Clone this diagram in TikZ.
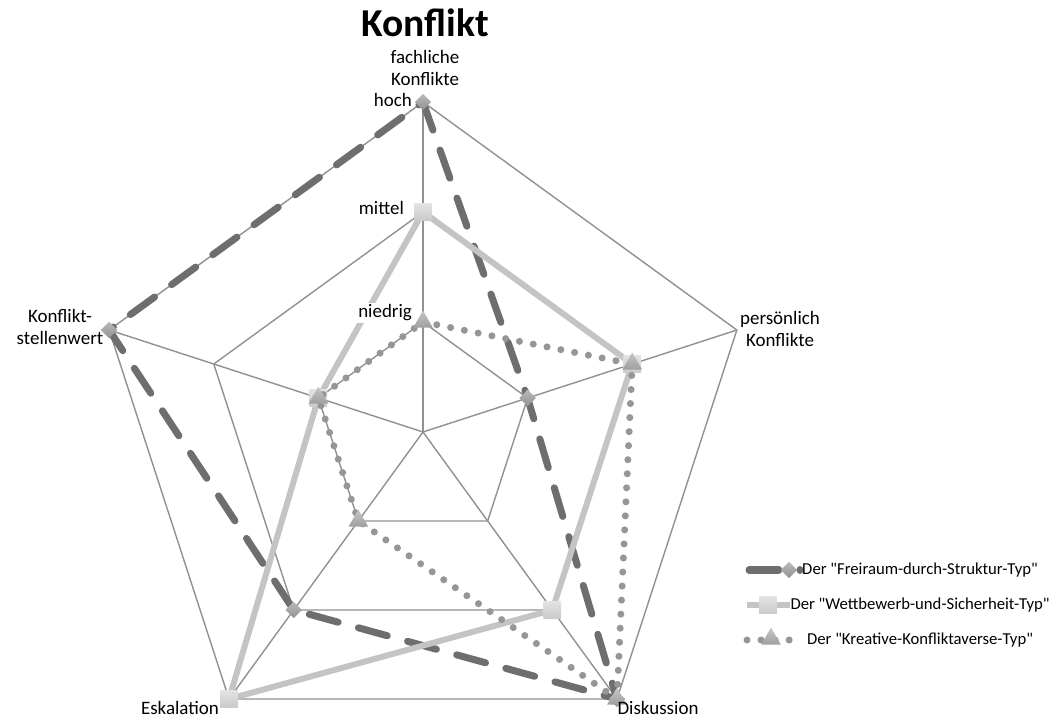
\documentclass[tikz,border=0pt]{standalone}
\usepackage{fontspec}
\setmainfont{Carlito}
\usetikzlibrary{shapes.geometric}
\definecolor{gridColor}{RGB}{145,145,145}
\definecolor{freiraumColor}{RGB}{110,110,110}
\definecolor{wettbewerbColor}{RGB}{196,196,196}
\definecolor{kreativColor}{RGB}{150,150,150}
\tikzstyle{chart} = [x = 0.02cm, y = 0.02cm]
\tikzstyle{gridLine} = [color=gridColor, line width=0.8pt]
\tikzstyle{freiraumLine} = [color=freiraumColor, line width=4pt, line cap=round, dash pattern=on 17pt off 12pt]
\tikzstyle{wettbewerbLine} = [color=wettbewerbColor, line width=3.4pt, line join=round]
\tikzstyle{kreativLine} = [color=kreativColor, line width=4pt, line cap=round, dash pattern=on 0pt off 8pt]
\tikzstyle{freiraumMark} = [diamond, minimum size=9.5pt, inner sep=0pt, top color=gray!55, bottom color=gray!85]
\tikzstyle{wettbewerbMark} = [rectangle, minimum size=10pt, inner sep=0pt, top color=gray!22, bottom color=gray!42]
\tikzstyle{kreativMark} = [regular polygon, regular polygon sides=3, minimum size=13pt, inner sep=0pt, top color=gray!45, bottom color=gray!75]
\tikzstyle{axisText} = [font=\fontsize{10.8}{13}\selectfont, align=center, inner sep=1pt]
\tikzstyle{scaleText} = [font=\fontsize{10.8}{13}\selectfont, anchor=east, inner sep=1pt]
\tikzstyle{legendText} = [font=\fontsize{9.5}{11}\selectfont]
\newcommand{\seriesPoints}[6]{
  \foreach \axis/\ang/\val in {1/90/#2, 2/18/#3, 3/-54/#4, 4/-126/#5, 5/162/#6} {
    \coordinate (#1\axis) at (\ang:110*\val);
  }
}
\newcommand{\seriesMarks}[2]{
  \foreach \axis in {1,...,5} {
    \node [#2] (#1Mark\axis) at (#1\axis) {};
  }
}
\begin{document}
\begin{tikzpicture}[chart]
  \useasboundingbox (0,0) rectangle (1050,719);
  \begin{scope}[shift={(423,287)}]
    \coordinate (center) at (0,0);
    \foreach \axis/\ang in {1/90, 2/18, 3/-54, 4/-126, 5/162} {
      \coordinate (outer\axis) at (\ang:330);
    }
    \foreach \level in {1,2,3} {
      \draw [gridLine] (90:110*\level) -- (18:110*\level) -- (-54:110*\level) -- (-126:110*\level) -- (162:110*\level) -- cycle;
    }
    \foreach \axis in {1,...,5} {
      \draw [gridLine] (center) -- (outer\axis);
    }
    \seriesPoints{fr}{3}{1}{3}{2}{3}
    \seriesPoints{wb}{2}{2}{2}{3}{1}
    \seriesPoints{kr}{1}{2}{3}{1}{1}
    \draw [freiraumLine] (fr1) -- (fr2) -- (fr3) -- (fr4) -- (fr5) -- cycle;
    \seriesMarks{fr}{freiraumMark}
    \draw [wettbewerbLine] (wb1) -- (wb2) -- (wb3) -- (wb4) -- (wb5) -- cycle;
    \seriesMarks{wb}{wettbewerbMark}
    \draw [kreativLine] (kr1) -- (kr2) -- (kr3) -- (kr4) -- (kr5) -- cycle;
    \seriesMarks{kr}{kreativMark}
  \end{scope}

  \node [font=\fontsize{22.5}{26}\selectfont\bfseries] (title) at (425,696) {Konflikt};
  \node [axisText] (fachLabel) at (425,651) {fachliche\\Konflikte};
  \node [axisText] (persLabel) at (780,390) {persönlich\\Konflikte};
  \node [axisText] (stellLabel) at (60,392) {Konflikt-\\stellenwert};
  \node [axisText] (eskaLabel) at (180,11) {Eskalation};
  \node [axisText] (diskLabel) at (658,11) {Diskussion};
  \node [scaleText] (hochLabel) at (414,619) {hoch};
  \node [scaleText] (mittelLabel) at (406,511) {mittel};
  \node [scaleText, fill=white] (niedrigLabel) at (414,406) {niedrig};

  \coordinate (legFrStart) at (749,149);
  \coordinate (legFrEnd) at (800,149);
  \draw [freiraumLine] (legFrStart) -- (legFrEnd);
  \node [freiraumMark] (legFrMark) at (789,149) {};
  \node [legendText] (legFrText) at (920,149) {Der \textquotedbl Freiraum-durch-Struktur-Typ\textquotedbl};
  \coordinate (legWbStart) at (747,114);
  \coordinate (legWbEnd) at (790,114);
  \draw [wettbewerbLine] (legWbStart) -- (legWbEnd);
  \node [wettbewerbMark] (legWbMark) at (768,114) {};
  \node [legendText] (legWbText) at (920,114) {Der \textquotedbl Wettbewerb-und-Sicherheit-Typ\textquotedbl};
  \coordinate (legKrStart) at (747,79);
  \coordinate (legKrEnd) at (800,79);
  \draw [kreativLine] (legKrStart) -- (legKrEnd);
  \node [kreativMark] (legKrMark) at (771,80) {};
  \node [legendText] (legKrText) at (920,79) {Der \textquotedbl Kreative-Konfliktaverse-Typ\textquotedbl};
\end{tikzpicture}
\end{document}
